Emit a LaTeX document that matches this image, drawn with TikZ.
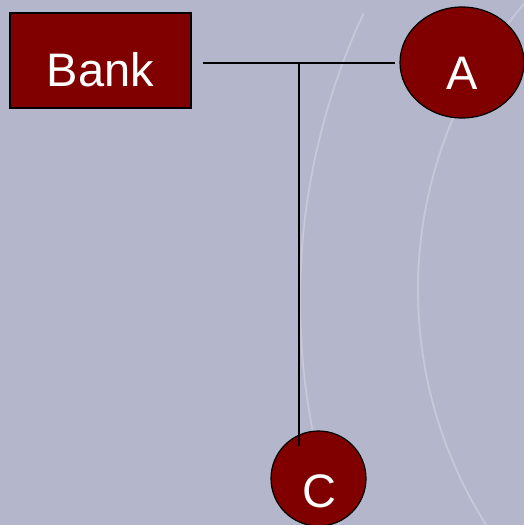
\documentclass[tikz,border=0pt]{standalone}
\usepackage{fontspec}
\setmainfont{Liberation Sans}
\usetikzlibrary{shapes.geometric}
\definecolor{bgc}{HTML}{B4B6CC}
\definecolor{darkred}{HTML}{800000}
\tikzset{
  shapebox/.style={fill=darkred, draw=black, line width=1.2pt, inner sep=0pt, text=white, font=\fontsize{47}{50}\selectfont, text depth=0pt},
  conn/.style={draw=black, line width=1.3pt},
  deco/.style={draw=white, opacity=0.25, line width=1.8pt}
}
\begin{document}
\begin{tikzpicture}[x=1pt,y=-1pt]
\fill[bgc] (0,0) rectangle (524,525);
\useasboundingbox (0,0) rectangle (524,525);
% faint decorative arcs
\begin{scope}
\clip (0,0) rectangle (524,525);
\draw[deco] (978,300) ++(180-27:678) arc[start angle=180-27, end angle=180+25, radius=678];
\draw[deco] (857,290) ++(180-45:439) arc[start angle=180-45, end angle=180+60, radius=439];
\end{scope}
\node[shapebox, rectangle, minimum width=181pt, minimum height=95pt, text height=51pt] (bank) at (100.5,60.5) {Bank};
\node[shapebox, ellipse, minimum width=124pt, minimum height=111pt, text height=53pt] (a) at (462,62.5) {A};
\node[shapebox, circle, minimum size=95pt, text height=57pt] (c) at (318.5,478.5) {\hspace*{1.5pt}C};
\coordinate (h1) at (203,63);
\coordinate (h2) at (395,63);
\coordinate (j) at (299,63);
\coordinate (v2) at (299,446);
\draw[conn] (h1) -- (h2);
\draw[conn] (j) -- (v2);
\end{tikzpicture}
\end{document}
